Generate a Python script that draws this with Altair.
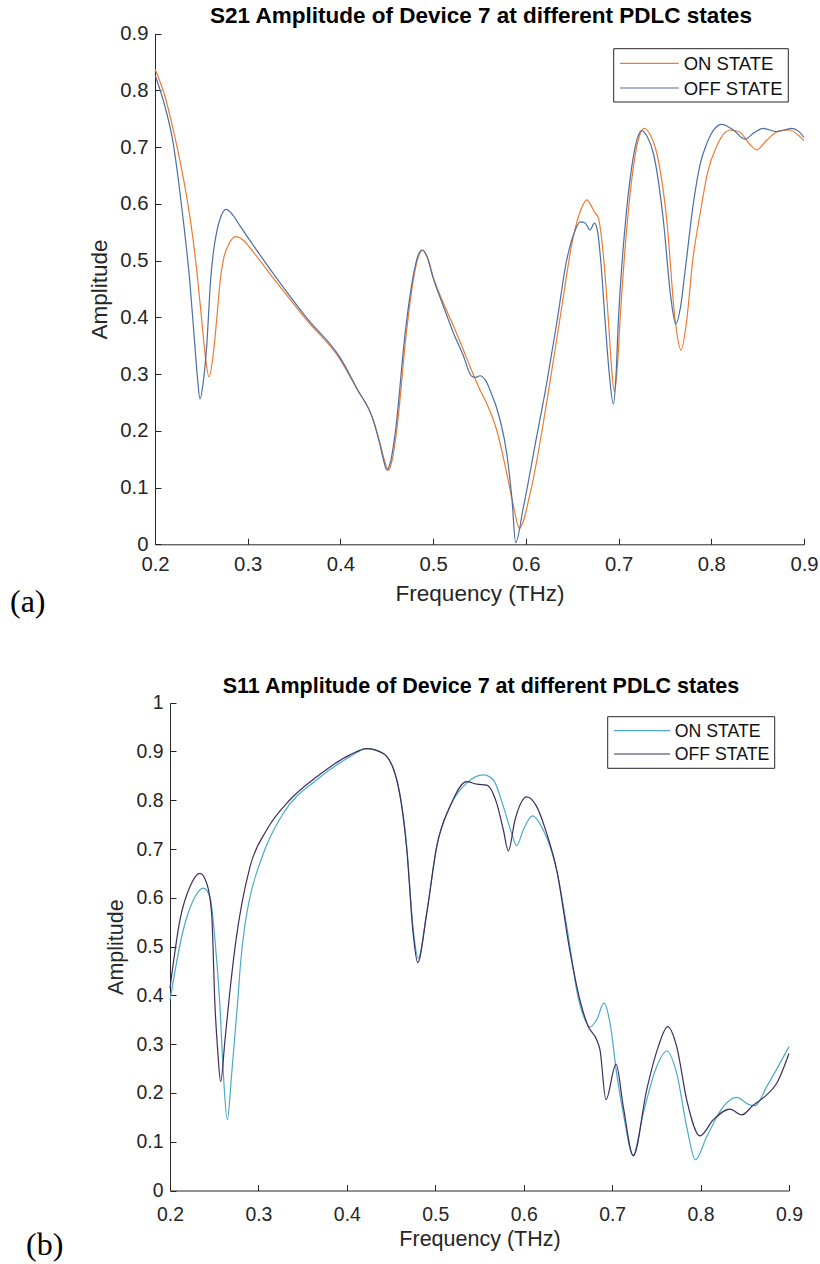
import altair as alt
import pandas as pd

W, H = 820, 1264
INK = "#262626"
SANS = "Liberation Sans"
SERIF = "Liberation Serif"

# ---------------- panel (a): S21 ----------------
s21_on_f = [0.200, 0.2108, 0.2197, 0.2270, 0.2342, 0.2400, 0.2450, 0.2504, 0.2540, 0.2583,
            0.2625, 0.2665, 0.2700, 0.2737, 0.2791, 0.2874, 0.2950, 0.3050, 0.3276, 0.3636,
            0.4000, 0.4176, 0.4355, 0.4427, 0.4480, 0.4517, 0.4560, 0.4607, 0.4715, 0.4786,
            0.4840, 0.4887, 0.4940, 0.5002, 0.5110, 0.5218, 0.5320, 0.5398, 0.5506, 0.5578,
            0.5686, 0.5794, 0.5870, 0.5930, 0.6047, 0.6225, 0.6370, 0.6512, 0.6600, 0.6657,
            0.6710, 0.6746, 0.6780, 0.6834, 0.6890, 0.6925, 0.6955, 0.6990, 0.7016, 0.7090,
            0.7160, 0.7220, 0.7278, 0.7340, 0.7412, 0.7520, 0.7610, 0.7674, 0.7735, 0.7800,
            0.7880, 0.7960, 0.8060, 0.8140, 0.8203, 0.8300, 0.8420, 0.8490, 0.8597, 0.8740,
            0.8850, 0.8930, 0.9000]
s21_on_v = [0.837, 0.789, 0.730, 0.675, 0.612, 0.550, 0.483, 0.395, 0.335, 0.295,
            0.330, 0.395, 0.460, 0.501, 0.527, 0.542, 0.536, 0.517, 0.469, 0.395,
            0.325, 0.274, 0.219, 0.178, 0.145, 0.130, 0.150, 0.201, 0.378, 0.466,
            0.506, 0.518, 0.505, 0.470, 0.425, 0.385, 0.345, 0.313, 0.272, 0.248,
            0.201, 0.125, 0.065, 0.028, 0.090, 0.250, 0.400, 0.542, 0.592, 0.607,
            0.595, 0.584, 0.576, 0.513, 0.395, 0.310, 0.269, 0.320, 0.395, 0.560,
            0.665, 0.717, 0.733, 0.722, 0.689, 0.571, 0.395, 0.342, 0.395, 0.500,
            0.583, 0.655, 0.702, 0.724, 0.730, 0.727, 0.704, 0.695, 0.712, 0.729,
            0.730, 0.722, 0.711]

s21_off_f = [0.200, 0.2108, 0.2197, 0.2250, 0.2305, 0.2377, 0.2431, 0.2460, 0.2485, 0.2520,
             0.2557, 0.2600, 0.2630, 0.2665, 0.2710, 0.2766, 0.2840, 0.2917, 0.3276, 0.3636,
             0.4000, 0.4176, 0.4355, 0.4427, 0.4470, 0.4500, 0.4540, 0.4590, 0.4700, 0.4780,
             0.4835, 0.4880, 0.4935, 0.5002, 0.5110, 0.5220, 0.5320, 0.5416, 0.5460, 0.5506,
             0.5560, 0.5614, 0.5722, 0.5794, 0.5850, 0.5890, 0.5973, 0.6117, 0.6226, 0.6333,
             0.6441, 0.6520, 0.6586, 0.6640, 0.6692, 0.6740, 0.6775, 0.6810, 0.6854, 0.6900,
             0.6944, 0.6970, 0.6998, 0.7070, 0.7142, 0.7200, 0.7250, 0.7310, 0.7375, 0.7483,
             0.7560, 0.7617, 0.7670, 0.7720, 0.7807, 0.7880, 0.7951, 0.8030, 0.8113, 0.8238,
             0.8364, 0.8460, 0.8560, 0.8706, 0.8868, 0.8940, 0.9000]
s21_off_v = [0.827, 0.771, 0.706, 0.645, 0.571, 0.460, 0.348, 0.290, 0.256, 0.285,
             0.348, 0.466, 0.515, 0.550, 0.577, 0.590, 0.580, 0.561, 0.477, 0.399,
             0.328, 0.275, 0.218, 0.175, 0.145, 0.131, 0.145, 0.195, 0.375, 0.468,
             0.508, 0.519, 0.506, 0.468, 0.420, 0.372, 0.335, 0.296, 0.294, 0.297,
             0.290, 0.272, 0.219, 0.160, 0.080, 0.003, 0.065, 0.190, 0.285, 0.390,
             0.501, 0.548, 0.568, 0.566, 0.554, 0.566, 0.550, 0.495, 0.395, 0.300,
             0.247, 0.290, 0.395, 0.560, 0.665, 0.714, 0.729, 0.718, 0.689, 0.571,
             0.440, 0.388, 0.420, 0.485, 0.601, 0.670, 0.706, 0.731, 0.740, 0.730,
             0.714, 0.725, 0.733, 0.727, 0.733, 0.728, 0.717]

# ---------------- panel (b): S11 ----------------
s11_on_f = [0.200, 0.2150, 0.2263, 0.2377, 0.2452, 0.2509, 0.2565, 0.2603, 0.2648, 0.2698,
            0.2761, 0.2800, 0.2840, 0.2900, 0.3018, 0.3281, 0.3659, 0.4035, 0.4224, 0.4412,
            0.4564, 0.4677, 0.4751, 0.4808, 0.4901, 0.5016, 0.5166, 0.5355, 0.5543, 0.5656,
            0.5770, 0.5864, 0.5920, 0.5995, 0.6097, 0.6221, 0.6373, 0.6523, 0.6599, 0.6693,
            0.6750, 0.6825, 0.6908, 0.6976, 0.7051, 0.7126, 0.7239, 0.7352, 0.7504, 0.7617,
            0.7730, 0.7843, 0.7941, 0.8069, 0.8257, 0.8409, 0.8560, 0.8616, 0.8748, 0.9000]
s11_on_v = [0.390, 0.534, 0.595, 0.620, 0.602, 0.513, 0.377, 0.240, 0.145, 0.240,
            0.377, 0.470, 0.535, 0.598, 0.672, 0.773, 0.842, 0.889, 0.906, 0.896,
            0.842, 0.705, 0.534, 0.476, 0.568, 0.705, 0.787, 0.835, 0.852, 0.842,
            0.787, 0.732, 0.707, 0.739, 0.768, 0.739, 0.657, 0.500, 0.411, 0.350,
            0.335, 0.350, 0.384, 0.343, 0.240, 0.158, 0.073, 0.158, 0.254, 0.286,
            0.240, 0.131, 0.063, 0.110, 0.172, 0.191, 0.175, 0.174, 0.213, 0.295]

s11_off_f = [0.200, 0.2113, 0.2226, 0.2339, 0.2415, 0.2471, 0.2509, 0.2539, 0.2573, 0.2622,
             0.2679, 0.2740, 0.2905, 0.3093, 0.3357, 0.3659, 0.4035, 0.4224, 0.4412, 0.4564,
             0.4677, 0.4751, 0.4801, 0.4901, 0.5016, 0.5166, 0.5355, 0.5468, 0.5581, 0.5694,
             0.5770, 0.5826, 0.5902, 0.6034, 0.6147, 0.6260, 0.6373, 0.6523, 0.6636, 0.6730,
             0.6825, 0.6863, 0.6930, 0.7044, 0.7126, 0.7239, 0.7390, 0.7522, 0.7628, 0.7730,
             0.7843, 0.7993, 0.8144, 0.8332, 0.8465, 0.8596, 0.8748, 0.8861, 0.9000]
s11_off_v = [0.415, 0.555, 0.623, 0.650, 0.630, 0.568, 0.377, 0.288, 0.223, 0.309,
             0.411, 0.505, 0.664, 0.739, 0.801, 0.848, 0.893, 0.906, 0.896, 0.842,
             0.700, 0.525, 0.467, 0.565, 0.705, 0.787, 0.838, 0.833, 0.831, 0.794,
             0.739, 0.696, 0.760, 0.807, 0.787, 0.732, 0.657, 0.490, 0.390, 0.336,
             0.309, 0.288, 0.186, 0.259, 0.172, 0.071, 0.206, 0.295, 0.336, 0.295,
             0.186, 0.112, 0.145, 0.167, 0.155, 0.175, 0.196, 0.220, 0.281]

x_ticks = [0.2, 0.3, 0.4, 0.5, 0.6, 0.7, 0.8, 0.9]
y_ticks_a = [0.0, 0.1, 0.2, 0.3, 0.4, 0.5, 0.6, 0.7, 0.8, 0.9]
y_ticks_b = [0.0, 0.1, 0.2, 0.3, 0.4, 0.5, 0.6, 0.7, 0.8, 0.9, 1.0]
states = ["ON STATE", "OFF STATE"]
colors_a = ["#EE7B30", "#4A6FA5"]
colors_b = ["#4AABC8", "#3E2D5E"]
titles = ["S21 Amplitude of Device 7 at different PDLC states",
          "S11 Amplitude of Device 7 at different PDLC states"]
tags = ["(a)", "(b)"]
x_title = "Frequency (THz)"
y_title = "Amplitude"

# layout of each panel (pixels) and font sizes
geo_a = dict(x0=155, x1=804, yt=33.5, yb=544.3, tick=20.3, lab=22.5, ttl=22.5, leg=18.5,
             xpad=10.5, ypad=7, titleY=56.5, titleX=-48.2,
             box=(613.7, 788.3, 48.7, 102.0), lx=(620, 678.7), ly=(63.3, 88.0), tx=683.7,
             head_y=23, tag_x=10, tag_y=612, tag_fs=32)
geo_b = dict(x0=170, x1=789, yt=702.7, yb=1190.5, tick=19.4, lab=21.5, ttl=21.5, leg=17.7,
             xpad=14.5, ypad=7, titleY=55.4, titleX=-47.9,
             box=(607.7, 774.7, 716.7, 768.3), lx=(614, 670), ly=(730.7, 754.0), tx=674.7,
             head_y=693, tag_x=26, tag_y=1255, tag_fs=32)

dummy = pd.DataFrame({"k": [0]})


def panel(on_f, on_v, off_f, off_v, colors, g, yticks, ydom):
    xs = alt.Scale(domain=[0.2, 0.9], range=[g["x0"], g["x1"]], nice=False, zero=False)
    ys = alt.Scale(domain=ydom, range=[g["yb"], g["yt"]], nice=False, zero=False)
    df_on = pd.DataFrame({"f": on_f, "v": on_v})
    df_off = pd.DataFrame({"f": off_f, "v": off_v})

    x_axis = alt.Axis(orient="bottom", offset=g["yb"] - H, values=x_ticks, format=".1~f",
                      ticks=False, grid=False, domain=True, domainColor=INK, domainWidth=1,
                      labelFont=SANS, labelFontSize=g["tick"], labelColor=INK,
                      labelPadding=g["xpad"], labelFlush=False, labelOverlap=False,
                      title=x_title, titleFont=SANS, titleFontSize=g["lab"],
                      titleFontWeight="normal", titleColor=INK, titleBaseline="alphabetic",
                      titleY=g["titleY"])
    y_axis = alt.Axis(orient="left", offset=-g["x0"], values=yticks, format=".1~f",
                      ticks=False, grid=False, domain=True, domainColor=INK, domainWidth=1,
                      labelFont=SANS, labelFontSize=g["tick"], labelColor=INK,
                      labelPadding=g["ypad"], labelFlush=False, labelOverlap=False,
                      title=y_title, titleFont=SANS, titleFontSize=g["lab"],
                      titleFontWeight="normal", titleColor=INK, titleBaseline="alphabetic",
                      titleX=g["titleX"])
    # opposite-orient axes drawn on the same lines: their outward ticks point inward
    x_tick_axis = alt.Axis(orient="top", offset=-g["yb"], values=x_ticks, labels=False,
                           domain=False, ticks=True, tickSize=6, tickColor=INK, tickWidth=1,
                           grid=False, title=None)
    y_tick_axis = alt.Axis(orient="right", offset=g["x0"] - W, values=yticks, labels=False,
                           domain=False, ticks=True, tickSize=6, tickColor=INK, tickWidth=1,
                           grid=False, title=None)

    on = alt.Chart(df_on).mark_line(color=colors[0], strokeWidth=1.2, interpolate="monotone").encode(
        x=alt.X("f:Q", scale=xs, axis=x_axis), y=alt.Y("v:Q", scale=ys, axis=y_axis))
    off = alt.Chart(df_off).mark_line(color=colors[1], strokeWidth=1.2, interpolate="monotone").encode(
        x=alt.X("f:Q", scale=xs, axis=None), y=alt.Y("v:Q", scale=ys, axis=None))
    tk = alt.Chart(df_on).mark_line(strokeOpacity=0).encode(
        x=alt.X("f:Q", scale=xs, axis=x_tick_axis), y=alt.Y("v:Q", scale=ys, axis=y_tick_axis))
    return alt.layer(on, off, tk).resolve_axis(x="independent", y="independent")


def decor(g, colors, title, tag):
    bx0, bx1, by0, by1 = g["box"]
    parts = [
        alt.Chart(dummy).mark_rect(fill="white", stroke=INK, strokeWidth=1).encode(
            x=alt.value(bx0), x2=alt.value(bx1), y=alt.value(by0), y2=alt.value(by1)),
    ]
    for i, s in enumerate(states):
        parts.append(alt.Chart(dummy).mark_rule(color=colors[i], strokeWidth=1.2).encode(
            x=alt.value(g["lx"][0]), x2=alt.value(g["lx"][1]), y=alt.value(g["ly"][i])))
        parts.append(alt.Chart(dummy).mark_text(font=SANS, fontSize=g["leg"], color="#111111",
                                                align="left", baseline="middle").encode(
            x=alt.value(g["tx"]), y=alt.value(g["ly"][i] + 1), text=alt.value(s)))
    parts.append(alt.Chart(dummy).mark_text(font=SANS, fontSize=g["ttl"], fontWeight="bold",
                                            color="#000000", align="center",
                                            baseline="alphabetic").encode(
        x=alt.value((g["x0"] + g["x1"]) / 2 + 1.5), y=alt.value(g["head_y"]), text=alt.value(title)))
    parts.append(alt.Chart(dummy).mark_text(font=SERIF, fontSize=g["tag_fs"], color="#000000",
                                            align="left", baseline="alphabetic").encode(
        x=alt.value(g["tag_x"]), y=alt.value(g["tag_y"]), text=alt.value(tag)))
    return parts


pa = panel(s21_on_f, s21_on_v, s21_off_f, s21_off_v, colors_a, geo_a, y_ticks_a, [0, 0.9])
pb = panel(s11_on_f, s11_on_v, s11_off_f, s11_off_v, colors_b, geo_b, y_ticks_b, [0, 1.0])

layers = [pa, pb] + decor(geo_a, colors_a, titles[0], tags[0]) + decor(geo_b, colors_b, titles[1], tags[1])

chart = alt.layer(*layers).resolve_scale(x="independent", y="independent").properties(
    width=W, height=H, autosize=alt.AutoSizeParams(type="none"), padding=0,
    background="white"
).configure_view(stroke=None)

chart.save("out.html", embed_options={"renderer": "svg", "actions": False})
